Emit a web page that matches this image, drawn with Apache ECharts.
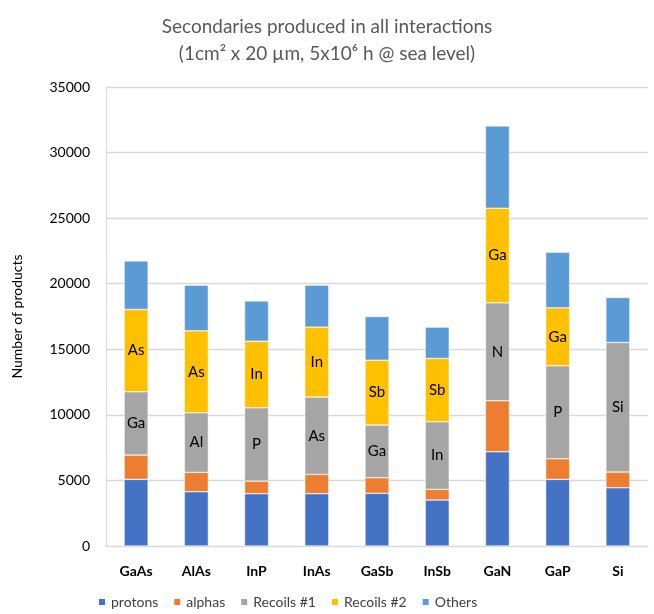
<!DOCTYPE html>
<html>
<head>
<meta charset="utf-8">
<script src="https://cdn.jsdelivr.net/npm/echarts@6/dist/echarts.min.js"></script>
<style>
  html, body { margin: 0; padding: 0; background: #fff; }
  #chart { width: 654px; height: 614px; }
</style>
</head>
<body>
<div id="chart"></div>
<script>
// materials on the x axis
var materials = ['GaAs', 'AlAs', 'InP', 'InAs', 'GaSb', 'InSb', 'GaN', 'GaP', 'Si'];

// stacked counts
var protons  = [5080, 4140, 3990, 3990, 4015, 3505, 7185, 5080, 4440];
var alphas   = [1855, 1475,  960, 1470, 1190,  815, 3885, 1575, 1200];
var recoils1 = [4825, 4545, 5590, 5895, 4015, 5150, 7470, 7085, 9880];
var recoils2 = [6275, 6245, 5080, 5335, 4950, 4830, 7215, 4420,    0];
var others   = [3705, 3485, 3070, 3200, 3330, 2390, 6275, 4240, 3430];

// element names written on the recoil segments
var recoil1Names = ['Ga', 'Al', 'P', 'As', 'Ga', 'In', 'N', 'P', 'Si'];
var recoil2Names = ['As', 'As', 'In', 'In', 'Sb', 'Sb', 'Ga', 'Ga', ''];

var yTicks = [0, 5000, 10000, 15000, 20000, 25000, 30000, 35000];

var font = 'Lato, "Open Sans", sans-serif';

function seg(name, color, data, names) {
  var s = {
    name: name,
    type: 'bar',
    stack: 'all',
    barWidth: 24,
    itemStyle: { color: color, borderColor: '#fff', borderWidth: 0.5 },
    data: data
  };
  if (names) {
    s.label = {
      show: true,
      position: 'inside',
      color: '#000',
      fontSize: 15,
      fontFamily: font,
      formatter: function (p) { return p.value ? names[p.dataIndex] : ''; }
    };
  }
  return s;
}

var myChart = echarts.init(document.getElementById('chart'));
var option = {
  animation: false,
  title: {
    text: 'Secondaries produced in all interactions\n(1cm² x 20 µm, 5x10⁶ h @ sea level)',
    left: 'center',
    top: 8,
    textStyle: { color: '#595959', fontSize: 19, fontWeight: 'normal', fontFamily: font, lineHeight: 27 }
  },
  legend: {
    left: 92,
    bottom: 0,
    itemWidth: 8,
    itemHeight: 8,
    itemGap: 14,
    icon: 'rect',
    textStyle: { color: '#404040', fontSize: 14, fontFamily: font },
    data: ['protons', 'alphas', 'Recoils #1', 'Recoils #2', 'Others']
  },
  grid: { left: 106, right: 6, top: 87, bottom: 68 },
  xAxis: {
    type: 'category',
    data: materials,
    axisLine: { lineStyle: { color: '#d9d9d9' } },
    axisTick: { show: false },
    axisLabel: { color: '#000', fontWeight: 'bold', fontSize: 14, fontFamily: font, margin: 18 }
  },
  yAxis: {
    type: 'value',
    min: yTicks[0],
    max: yTicks[yTicks.length - 1],
    interval: 5000,
    name: 'Number of products',
    nameLocation: 'middle',
    nameGap: 82,
    nameTextStyle: { color: '#000', fontSize: 14, fontFamily: font },
    axisLine: { show: true, lineStyle: { color: '#d9d9d9' } },
    axisTick: { show: false },
    axisLabel: {
      color: '#000', fontSize: 14, fontFamily: font, margin: 16,
      formatter: function (v) { return String(v); }
    },
    splitLine: { lineStyle: { color: '#d9d9d9', width: 1.3 } }
  },
  series: [
    seg('protons', '#4472C4', protons),
    seg('alphas', '#ED7D31', alphas),
    seg('Recoils #1', '#A5A5A5', recoils1, recoil1Names),
    seg('Recoils #2', '#FFC000', recoils2, recoil2Names),
    seg('Others', '#5B9BD5', others)
  ]
};
myChart.setOption(option);
</script>
</body>
</html>
